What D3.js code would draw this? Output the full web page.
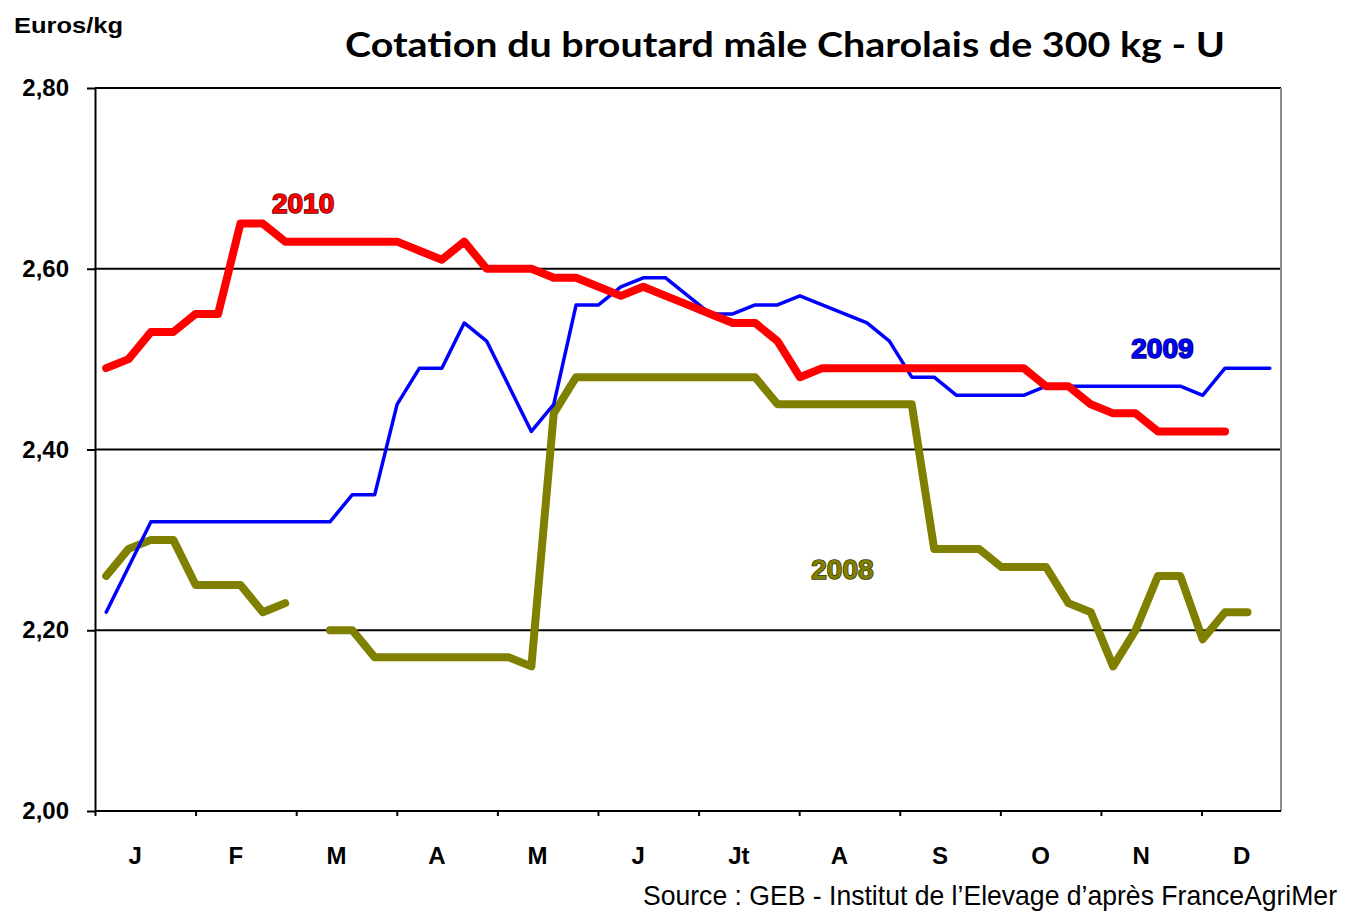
<!DOCTYPE html>
<meta charset="utf-8">
<style>
body { margin: 0; background: #fff; }
text { font-family: "Liberation Sans", Arial, sans-serif; }
.tick text { font: bold 24px "Liberation Sans", Arial, sans-serif; fill: #000; }
.tick line, .domain { stroke: #000; stroke-width: 2px; }
.serie { fill: none; stroke-linejoin: round; stroke-linecap: round; }
.yearlab { font-weight: bold; font-size: 28px; text-anchor: middle; paint-order: stroke; stroke-width: 1.6px; }
</style>
<svg width="1345" height="913"></svg>
<script src="https://d3js.org/d3.v7.min.js"></script>
<script>

// weekly quotations (euros/kg), weeks 1..53, null = no quotation
var cote2008 = [2.26,2.29,2.30,2.30,2.25,2.25,2.25,2.22,2.23,null,
                2.20,2.20,2.17,2.17,2.17,2.17,2.17,2.17,2.17,2.16,
                2.44,2.48,2.48,2.48,2.48,2.48,2.48,2.48,2.48,2.48,
                2.45,2.45,2.45,2.45,2.45,2.45,2.45,2.29,2.29,2.29,
                2.27,2.27,2.27,2.23,2.22,2.16,2.20,2.26,2.26,2.19,
                2.22,2.22,null];
var cote2009 = [2.22,2.27,2.32,2.32,2.32,2.32,2.32,2.32,2.32,2.32,
                2.32,2.35,2.35,2.45,2.49,2.49,2.54,2.52,2.47,2.42,
                2.45,2.56,2.56,2.58,2.59,2.59,2.57,2.55,2.55,2.56,
                2.56,2.57,2.56,2.55,2.54,2.52,2.48,2.48,2.46,2.46,
                2.46,2.46,2.47,2.47,2.47,2.47,2.47,2.47,2.47,2.46,
                2.49,2.49,2.49];
var cote2010 = [2.49,2.50,2.53,2.53,2.55,2.55,2.65,2.65,2.63,2.63,
                2.63,2.63,2.63,2.63,2.62,2.61,2.63,2.60,2.60,2.60,
                2.59,2.59,2.58,2.57,2.58,2.57,2.56,2.55,2.54,2.54,
                2.52,2.48,2.49,2.49,2.49,2.49,2.49,2.49,2.49,2.49,
                2.49,2.49,2.47,2.47,2.45,2.44,2.44,2.42,2.42,2.42,
                2.42,null,null];

var months = ["J","F","M","A","M","J","Jt","A","S","O","N","D"];
var yTicks = [2.00, 2.20, 2.40, 2.60, 2.80];

var series = [
  {name: "2008", values: cote2008, color: "#808000", width: 8, lab: [33.9, 2.257], dark: "#3a3a00"},
  {name: "2009", values: cote2009, color: "#0000ff", width: 3.5, lab: [48.2, 2.501], dark: "#000060"},
  {name: "2010", values: cote2010, color: "#ff0000", width: 8, lab: [9.8, 2.662], dark: "#600000"}
];

var svg = d3.select("svg");
var mLeft = 95, mRight = 1281, mTop = 88, mBottom = 811;

var x = d3.scaleLinear().domain([0.5, 53.5]).range([mLeft, mRight]);
var xm = d3.scaleLinear().domain([0, 11.79]).range([mLeft, mRight]);
var y = d3.scaleLinear().domain([2, 2.8]).range([mBottom, mTop]);

// titles
svg.append("text")
    .attr("x", 14).attr("y", 33)
    .attr("textLength", 109).attr("lengthAdjust", "spacingAndGlyphs")
    .style("font-weight", "bold").style("font-size", "22px")
    .text("Euros/kg");

svg.append("text")
    .attr("x", 345).attr("y", 57)
    .attr("textLength", 880).attr("lengthAdjust", "spacingAndGlyphs")
    .style("font-family", "Lato, 'Open Sans', sans-serif")
    .style("font-weight", "bold").style("font-size", "35px")
    .text("Cotation du broutard mâle Charolais de 300 kg - U");

svg.append("text")
    .attr("x", 643).attr("y", 905)
    .attr("textLength", 694).attr("lengthAdjust", "spacingAndGlyphs")
    .style("font-size", "28px")
    .text("Source : GEB - Institut de l\u2019Elevage d\u2019après FranceAgriMer");

// grid + frame
svg.append("g").selectAll("line")
  .data(yTicks.slice(1))
  .join("line")
    .attr("x1", mLeft).attr("x2", mRight)
    .attr("y1", function(d) { return y(d); })
    .attr("y2", function(d) { return y(d); })
    .attr("stroke", "#000").attr("stroke-width", 2);

svg.append("line")
    .attr("x1", mRight).attr("x2", mRight).attr("y1", mTop).attr("y2", mBottom)
    .attr("stroke", "#8c8c8c").attr("stroke-width", 2);

// axes
var fmt = d3.format(".2f");
svg.append("g")
    .attr("transform", "translate(" + mLeft + ",0)")
    .call(d3.axisLeft(y).tickValues(yTicks).tickSize(8).tickSizeOuter(0).tickPadding(18)
      .tickFormat(function(d) { return fmt(d).replace(".", ","); }));

var gx = svg.append("g")
    .attr("transform", "translate(0," + mBottom + ")")
    .call(d3.axisBottom(xm).tickValues(d3.range(12)).tickSize(5).tickSizeOuter(0).tickFormat(""));
gx.select(".domain").attr("d", "M" + mLeft + ",0H" + mRight);

svg.append("g").selectAll("text")
  .data(months)
  .join("text")
    .attr("x", function(d, i) { return xm(i + 0.4); })
    .attr("y", 864)
    .attr("text-anchor", "middle")
    .style("font-weight", "bold").style("font-size", "24px")
    .text(function(d) { return d; });

// lines
var line = d3.line()
    .defined(function(d) { return d != null; })
    .x(function(d, i) { return x(i + 1); })
    .y(function(d) { return y(d); });

svg.append("g").selectAll("path")
  .data(series)
  .join("path")
    .attr("class", "serie")
    .attr("stroke", function(d) { return d.color; })
    .attr("stroke-width", function(d) { return d.width; })
    .attr("d", function(d) { return line(d.values); });

svg.append("g").selectAll("text")
  .data(series)
  .join("text")
    .attr("class", "yearlab")
    .attr("x", function(d) { return x(d.lab[0]); })
    .attr("y", function(d) { return y(d.lab[1]); })
    .attr("fill", function(d) { return d.color; })
    .attr("stroke", function(d) { return d.dark; })
    .text(function(d) { return d.name; });

</script>
